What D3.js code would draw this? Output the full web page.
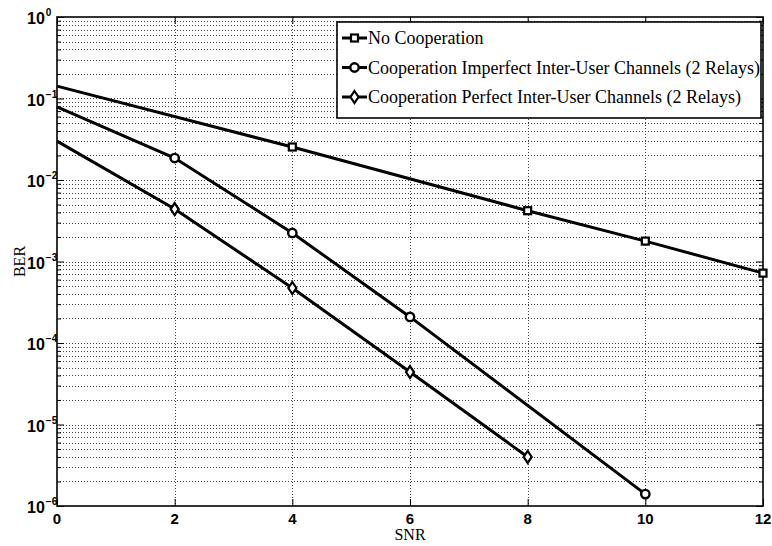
<!DOCTYPE html>
<html>
<head>
<meta charset="utf-8">
<script src="https://cdn.jsdelivr.net/npm/d3@7"></script>
<style>
  body { margin: 0; background: #fff; }
  .tick-lbl { font-family: "Liberation Sans", Arial, sans-serif; font-weight: bold; fill: #000; }
  .serif { font-family: "Liberation Serif", "Times New Roman", serif; fill: #000; }
</style>
</head>
<body>
<div id="chart"></div>
<script>
// data
const xTicks = [0, 2, 4, 6, 8, 10, 12];
const yExponents = [0, -1, -2, -3, -4, -5, -6];

const noCoopSNR = [0, 4, 8, 10, 12];
const noCoopBER = [0.142, 0.0254, 0.0042, 0.00178, 0.00072];

const imperfectSNR = [0, 2, 4, 6, 10];
const imperfectBER = [0.0787, 0.0186, 0.00224, 0.000209, 0.0000014];

const perfectSNR = [0, 2, 4, 6, 8];
const perfectBER = [0.030, 0.0044, 0.000473, 0.000044, 0.000004];

const legendLabels = [
  "No Cooperation",
  "Cooperation Imperfect Inter-User Channels (2 Relays)",
  "Cooperation Perfect Inter-User Channels (2 Relays)"
];

const series = [
  { name: legendLabels[0], x: noCoopSNR, y: noCoopBER, marker: "square" },
  { name: legendLabels[1], x: imperfectSNR, y: imperfectBER, marker: "circle" },
  { name: legendLabels[2], x: perfectSNR, y: perfectBER, marker: "diamond" }
];

// chart setup
const svgWidth = 772;
const svgHeight = 546;
const margin = { top: 17, right: 9, bottom: 40, left: 57 };
const width = svgWidth - margin.left - margin.right;
const height = svgHeight - margin.top - margin.bottom;

const svg = d3.select("#chart")
  .append("svg")
  .attr("width", svgWidth)
  .attr("height", svgHeight);

const chartGroup = svg.append("g")
  .attr("transform", `translate(${margin.left}, ${margin.top})`);

const xScale = d3.scaleLinear().domain([0, 12]).range([0, width]);
const yScale = d3.scaleLog().domain([1e-6, 1]).range([height, 0]);

const isDecade = d => Math.abs(Math.log10(d) - Math.round(Math.log10(d))) < 1e-6;

// grid lines (dotted)
const minorVals = [];
yExponents.forEach(e => {
  if (e === 0) return;
  for (let m = 1; m <= 9; m++) minorVals.push(m * Math.pow(10, e));
});

chartGroup.append("g")
  .selectAll("line")
  .data(minorVals.filter(v => v > 1e-6 && v < 1))
  .enter()
  .append("line")
  .attr("x1", 0)
  .attr("x2", width)
  .attr("y1", d => Math.round(yScale(d)) + 0.5)
  .attr("y2", d => Math.round(yScale(d)) + 0.5)
  .attr("stroke", "#444")
  .attr("stroke-width", 1)
  .attr("stroke-dasharray", "1,2");

chartGroup.append("g")
  .selectAll("line")
  .data(xTicks.filter(d => d > 0 && d < 12))
  .enter()
  .append("line")
  .attr("x1", d => Math.round(xScale(d)) + 0.5)
  .attr("x2", d => Math.round(xScale(d)) + 0.5)
  .attr("y1", 0)
  .attr("y2", height)
  .attr("stroke", "#444")
  .attr("stroke-width", 1)
  .attr("stroke-dasharray", "1,2");

// axes: d3 axes for the inward ticks, then a box
const leftAxis = d3.axisLeft(yScale)
  .tickValues(minorVals.concat([1]))
  .tickSizeOuter(0)
  .tickFormat("");
const axL = chartGroup.append("g").call(leftAxis);
axL.selectAll(".tick line")
  .attr("x2", d => isDecade(d) ? 7 : 4)
  .attr("stroke", "#000");
axL.select(".domain").remove();

const rightAxis = d3.axisRight(yScale)
  .tickValues(minorVals.concat([1]))
  .tickSizeOuter(0)
  .tickFormat("");
const axR = chartGroup.append("g").attr("transform", `translate(${width},0)`).call(rightAxis);
axR.selectAll(".tick line")
  .attr("x2", d => isDecade(d) ? -7 : -4)
  .attr("stroke", "#000");
axR.select(".domain").remove();

const bottomAxis = d3.axisBottom(xScale).tickValues(xTicks).tickSizeOuter(0).tickFormat("");
const axB = chartGroup.append("g").attr("transform", `translate(0,${height})`).call(bottomAxis);
axB.selectAll(".tick line").attr("y2", -7).attr("stroke", "#000");
axB.select(".domain").remove();

const topAxis = d3.axisTop(xScale).tickValues(xTicks).tickSizeOuter(0).tickFormat("");
const axT = chartGroup.append("g").call(topAxis);
axT.selectAll(".tick line").attr("y2", 7).attr("stroke", "#000");
axT.select(".domain").remove();

chartGroup.append("rect")
  .attr("x", 0).attr("y", 0)
  .attr("width", width).attr("height", height)
  .attr("fill", "none")
  .attr("stroke", "#000")
  .attr("stroke-width", 1.6);

// x tick labels
chartGroup.selectAll("text.xlbl")
  .data(xTicks)
  .enter()
  .append("text")
  .attr("class", "xlbl tick-lbl")
  .attr("x", d => xScale(d))
  .attr("y", height + 18)
  .attr("text-anchor", "middle")
  .style("font-size", "15px")
  .text(d => d);

// y tick labels 10^e
const yl = chartGroup.selectAll("text.ylbl")
  .data(yExponents)
  .enter()
  .append("text")
  .attr("class", "ylbl tick-lbl")
  .attr("x", -30)
  .attr("y", d => yScale(Math.pow(10, d)) + 7)
  .style("font-size", "16px");
yl.append("tspan")
  .text("10");
yl.append("tspan")
  .attr("dx", 1)
  .attr("dy", -8)
  .style("font-size", "10px")
  .text(d => d === 0 ? "0" : "\u2212" + Math.abs(d));

// axis titles
chartGroup.append("text")
  .attr("class", "serif")
  .attr("x", width / 2)
  .attr("y", height + 34)
  .attr("text-anchor", "middle")
  .style("font-size", "16px")
  .text("SNR");

chartGroup.append("text")
  .attr("class", "serif")
  .attr("transform", "rotate(-90)")
  .attr("x", -height / 2)
  .attr("y", 0 - margin.left + 25)
  .attr("text-anchor", "middle")
  .style("font-size", "16px")
  .text("BER");

// lines
const line = d3.line()
  .x(d => xScale(d[0]))
  .y(d => yScale(d[1]));

function drawMarker(sel, type) {
  if (type === "square") {
    sel.append("rect")
      .attr("x", -3.5).attr("y", -3.5).attr("width", 7).attr("height", 7)
      .attr("fill", "#fff").attr("stroke", "#000").attr("stroke-width", 2.2);
  } else if (type === "circle") {
    sel.append("circle")
      .attr("r", 4.2)
      .attr("fill", "#fff").attr("stroke", "#000").attr("stroke-width", 2.4);
  } else {
    sel.append("path")
      .attr("d", "M0,-6L4,0L0,6L-4,0Z")
      .attr("fill", "#fff").attr("stroke", "#000").attr("stroke-width", 2.2);
  }
}

series.forEach(s => {
  const pts = s.x.map((x, i) => [x, s.y[i]]);
  chartGroup.append("path")
    .datum(pts)
    .attr("d", line)
    .attr("fill", "none")
    .attr("stroke", "#000")
    .attr("stroke-width", 3);

  chartGroup.append("g")
    .selectAll("g")
    .data(pts.slice(1))
    .enter()
    .append("g")
    .attr("transform", d => `translate(${xScale(d[0])},${yScale(d[1])})`)
    .each(function () { drawMarker(d3.select(this), s.marker); });
});

// legend
const legend = svg.append("g").attr("transform", "translate(337,22)");
legend.append("rect")
  .attr("width", 424)
  .attr("height", 96)
  .attr("fill", "#fff")
  .attr("stroke", "#000")
  .attr("stroke-width", 1.6);

const rows = legend.selectAll("g.row")
  .data(series)
  .enter()
  .append("g")
  .attr("class", "row")
  .attr("transform", (d, i) => `translate(0,${16 + i * 29.5})`);

rows.append("line")
  .attr("x1", 5).attr("x2", 30)
  .attr("stroke", "#000").attr("stroke-width", 3);

rows.append("g")
  .attr("transform", "translate(17.5,0)")
  .each(function (d) { drawMarker(d3.select(this), d.marker); });

rows.append("text")
  .attr("class", "serif")
  .attr("x", 31)
  .attr("y", 6)
  .style("font-size", "18px")
  .text(d => d.name);
</script>
</body>
</html>
